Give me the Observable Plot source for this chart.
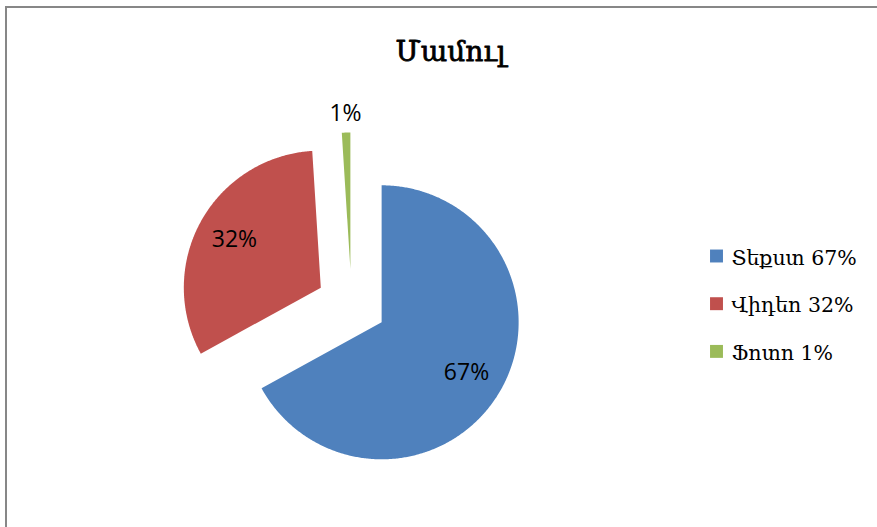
<!DOCTYPE html>
<html><head><meta charset="utf-8">
<script src="https://cdn.jsdelivr.net/npm/d3@7"></script>
<script src="https://cdn.jsdelivr.net/npm/@observablehq/plot@0.6"></script>
<style>
body{margin:0;background:#fff;}
#wrap{position:relative;width:877px;height:527px;overflow:hidden;background:#fff;}
#border{position:absolute;left:5px;top:6px;width:950px;height:650px;border-left:2px solid #878787;border-top:2px solid #878787;}
#chart{position:absolute;left:0;top:0;}
</style></head><body>
<div id="wrap"><div id="border"></div><div id="chart"></div></div>
<script>
// ---- data ----
const title = "Մամուլ";
const categories = ["Տեքստ", "Վիդեո", "Ֆոտո"];
const values = [67, 32, 1];
const valueLabels = ["67%", "32%", "1%"];
const colors = ["#4F81BD", "#C0504D", "#9BBB59"];

// ---- layout ----
const W = 877, H = 527;
const cx = 351, cy = 304, R = 137, explode = 35;
const armenianFont = "'DejaVu Serif', 'DejaVu Sans', serif";

const total = d3.sum(values);
const arcs = d3.pie().sort(null).startAngle(0).endAngle(2 * Math.PI)(values);

const polyPoints = [];
const labels = [];
arcs.forEach((a, i) => {
  const mid = (a.startAngle + a.endAngle) / 2;
  const ox = cx + explode * Math.sin(mid), oy = cy - explode * Math.cos(mid);
  polyPoints.push({cat: categories[i], px: ox, py: oy});
  const n = Math.max(2, Math.ceil((a.endAngle - a.startAngle) / (Math.PI / 360)));
  for (let k = 0; k <= n; k++) {
    const t = a.startAngle + (a.endAngle - a.startAngle) * k / n;
    polyPoints.push({cat: categories[i], px: ox + R * Math.sin(t), py: oy - R * Math.cos(t)});
  }
  polyPoints.push({cat: categories[i], px: ox, py: oy});
  const frac = values[i] / total;
  const lr = frac >= 0.05 ? 0.72 * R : 1.135 * R;
  labels.push({text: valueLabels[i], px: ox + lr * Math.sin(mid), py: oy - lr * Math.cos(mid)});
});

const legendX = 716, legendY0 = 255.5, legendStep = 47.7;
const legend = categories.map((c, i) => ({
  cat: c,
  label: c + " " + valueLabels[i],
  px: legendX,
  py: legendY0 + i * legendStep
}));

const chart = Plot.plot({
  width: W, height: H, margin: 0,
  x: {domain: [0, W], range: [0, W], axis: null},
  y: {domain: [0, H], range: [0, H], axis: null},
  color: {domain: categories, range: colors},
  marks: [
    Plot.line(polyPoints, {x: "px", y: "py", z: "cat", fill: "cat", stroke: null, curve: "linear"}),
    Plot.text(labels, {x: "px", y: "py", text: "text", fontSize: 23, fill: "#000", fontFamily: "'Open Sans', sans-serif", lineAnchor: "middle"}),
    Plot.text([title], {x: () => 450, y: () => 52, text: d => d, fontSize: 28, fill: "#000", stroke: "#000", strokeWidth: 0.8, fontFamily: armenianFont, lineAnchor: "middle"}),
    Plot.dot(legend, {x: "px", y: "py", symbol: "square", r: 7.3, fill: "cat", stroke: null}),
    Plot.text(legend, {x: "px", y: "py", dx: 15, dy: 2, text: "label", textAnchor: "start", fontSize: 20.5, fill: "#000", fontFamily: armenianFont, lineAnchor: "middle"})
  ]
});
chart.style.background = "transparent";
document.getElementById("chart").appendChild(chart);
</script>
</body></html>
